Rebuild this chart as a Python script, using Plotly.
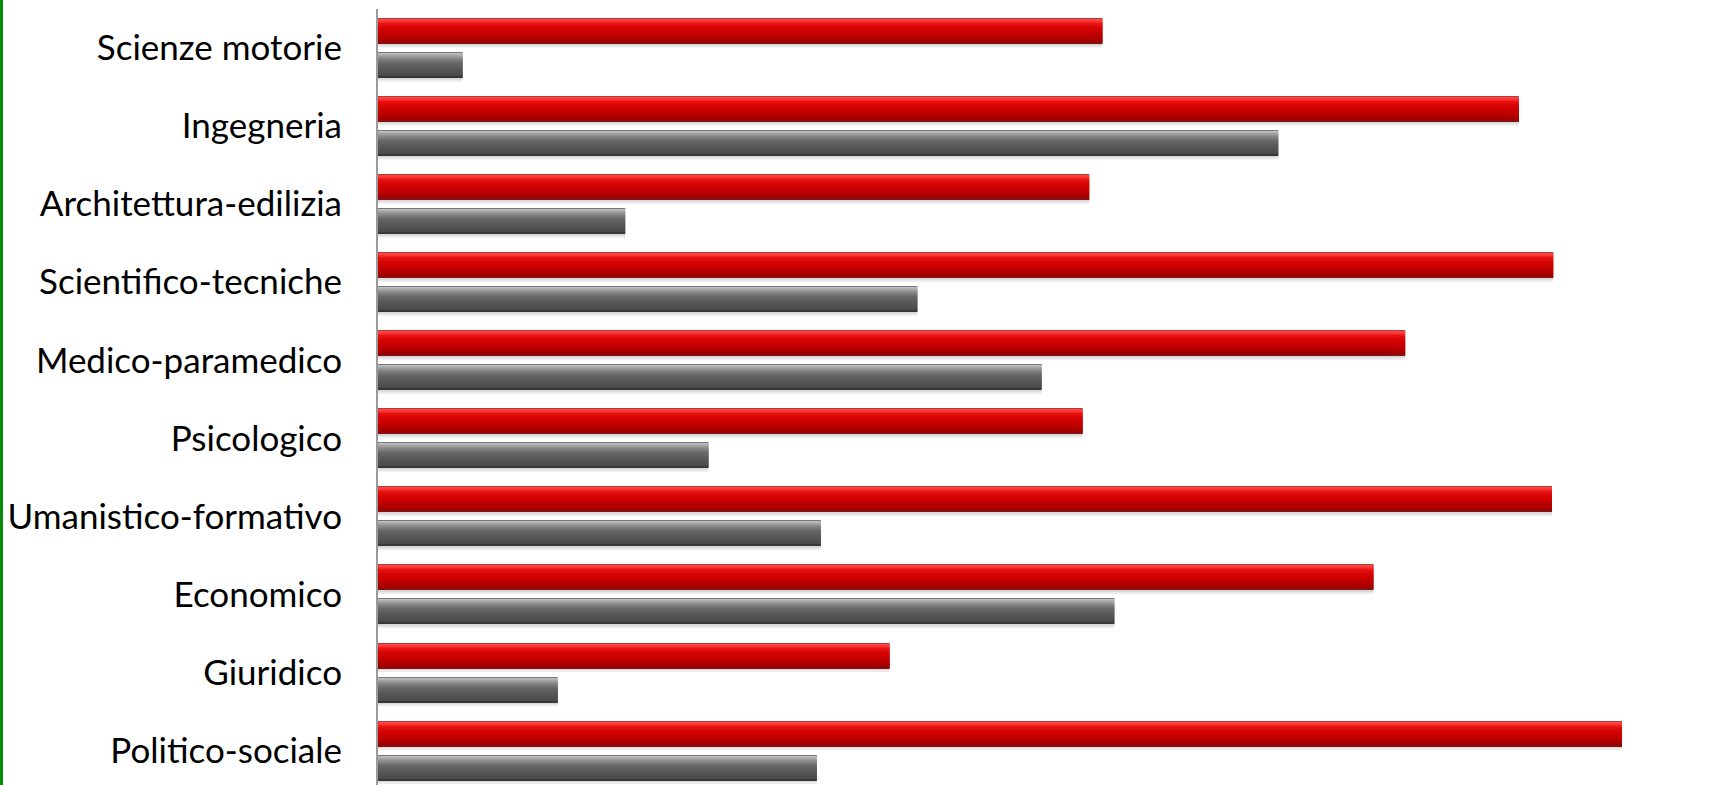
import plotly.graph_objects as go

categories = ["Scienze motorie", "Ingegneria", "Architettura-edilizia", "Scientifico-tecniche",
              "Medico-paramedico", "Psicologico", "Umanistico-formativo", "Economico",
              "Giuridico", "Politico-sociale"]
red_values = [54.8, 86.3, 53.8, 88.9, 77.7, 53.3, 88.8, 75.3, 38.7, 94.1]
gray_values = [6.4, 68.1, 18.7, 40.8, 50.2, 25.0, 33.5, 55.7, 13.6, 33.2]

W, H = 1712, 785
ML, MR, MT, MB = 378, 12, 9, 0
PITCH = 78.06  # px per category
PX = 1.0 / PITCH

BAR_PX = 25
RED_TOP = -29.5
GRAY_TOP = 4.5

# vertical colour profile (row in px -> rgb), interpolated per pixel row
red_stops = [(0, (170, 60, 60)), (1, (255, 70, 70)), (3, (250, 50, 50)), (5, (235, 20, 20)),
             (9, (215, 5, 5)), (14, (200, 0, 0)), (19, (180, 0, 0)), (23, (160, 0, 0)), (24, (135, 15, 15))]
gray_stops = [(0, (120, 120, 120)), (1, (190, 190, 190)), (3, (165, 165, 165)), (6, (135, 135, 135)),
              (10, (105, 105, 105)), (15, (90, 90, 90)), (20, (80, 80, 80)), (23, (74, 74, 74)), (24, (55, 55, 55))]


def color_at(stops, r):
    for (a, ca), (b, cb) in zip(stops, stops[1:]):
        if a <= r <= b:
            t = 0 if b == a else (r - a) / (b - a)
            c = [round(ca[k] + (cb[k] - ca[k]) * t) for k in range(3)]
            return "rgb(%d,%d,%d)" % tuple(c)
    return "rgb(%d,%d,%d)" % stops[-1][1]


fig = go.Figure()


def add_series(values, top, stops):
    # soft shadow
    fig.add_trace(go.Bar(y=categories, x=values, orientation="h",
                         width=(BAR_PX + 3) * PX, offset=(top + 1) * PX,
                         marker=dict(color="rgba(0,0,0,0.08)", line=dict(width=0)),
                         hoverinfo="skip", showlegend=False))
    fig.add_trace(go.Bar(y=categories, x=values, orientation="h",
                         width=(BAR_PX + 1) * PX, offset=(top + 1) * PX,
                         marker=dict(color="rgba(0,0,0,0.08)", line=dict(width=0)),
                         hoverinfo="skip", showlegend=False))
    for r in range(BAR_PX):
        fig.add_trace(go.Bar(y=categories, x=values, orientation="h",
                             width=1.05 * PX, offset=(top + r) * PX,
                             marker=dict(color=color_at(stops, r), line=dict(width=0)),
                             hoverinfo="x+y" if r == 12 else "skip", showlegend=False))


add_series(red_values, RED_TOP, red_stops)
add_series(gray_values, GRAY_TOP, gray_stops)

plot_h = H - MT - MB
fig.update_layout(
    width=W, height=H,
    margin=dict(l=ML, r=MR, t=MT, b=MB, pad=0),
    barmode="overlay",
    paper_bgcolor="white", plot_bgcolor="white",
    showlegend=False,
    font=dict(family="Lato, sans-serif", color="black"),
    xaxis=dict(range=[0, 100], visible=False, fixedrange=True),
    yaxis=dict(type="category", categoryorder="array", categoryarray=categories,
               range=[-0.5 + plot_h / PITCH, -0.5],
               showgrid=False, zeroline=False,
               showline=True, linecolor="#9a9a9a", linewidth=2,
               ticks="", ticklabelstandoff=27,
               tickfont=dict(size=35, family="Lato, sans-serif", color="black")),
    shapes=[dict(type="rect", xref="paper", yref="paper", xsizemode="pixel", xanchor=0,
                 x0=-ML, x1=-ML + 3, y0=-0.02, y1=1.05, fillcolor="#0a8a0a", line=dict(width=0))],
)

fig.write_html("out.html", config={"displayModeBar": False})
